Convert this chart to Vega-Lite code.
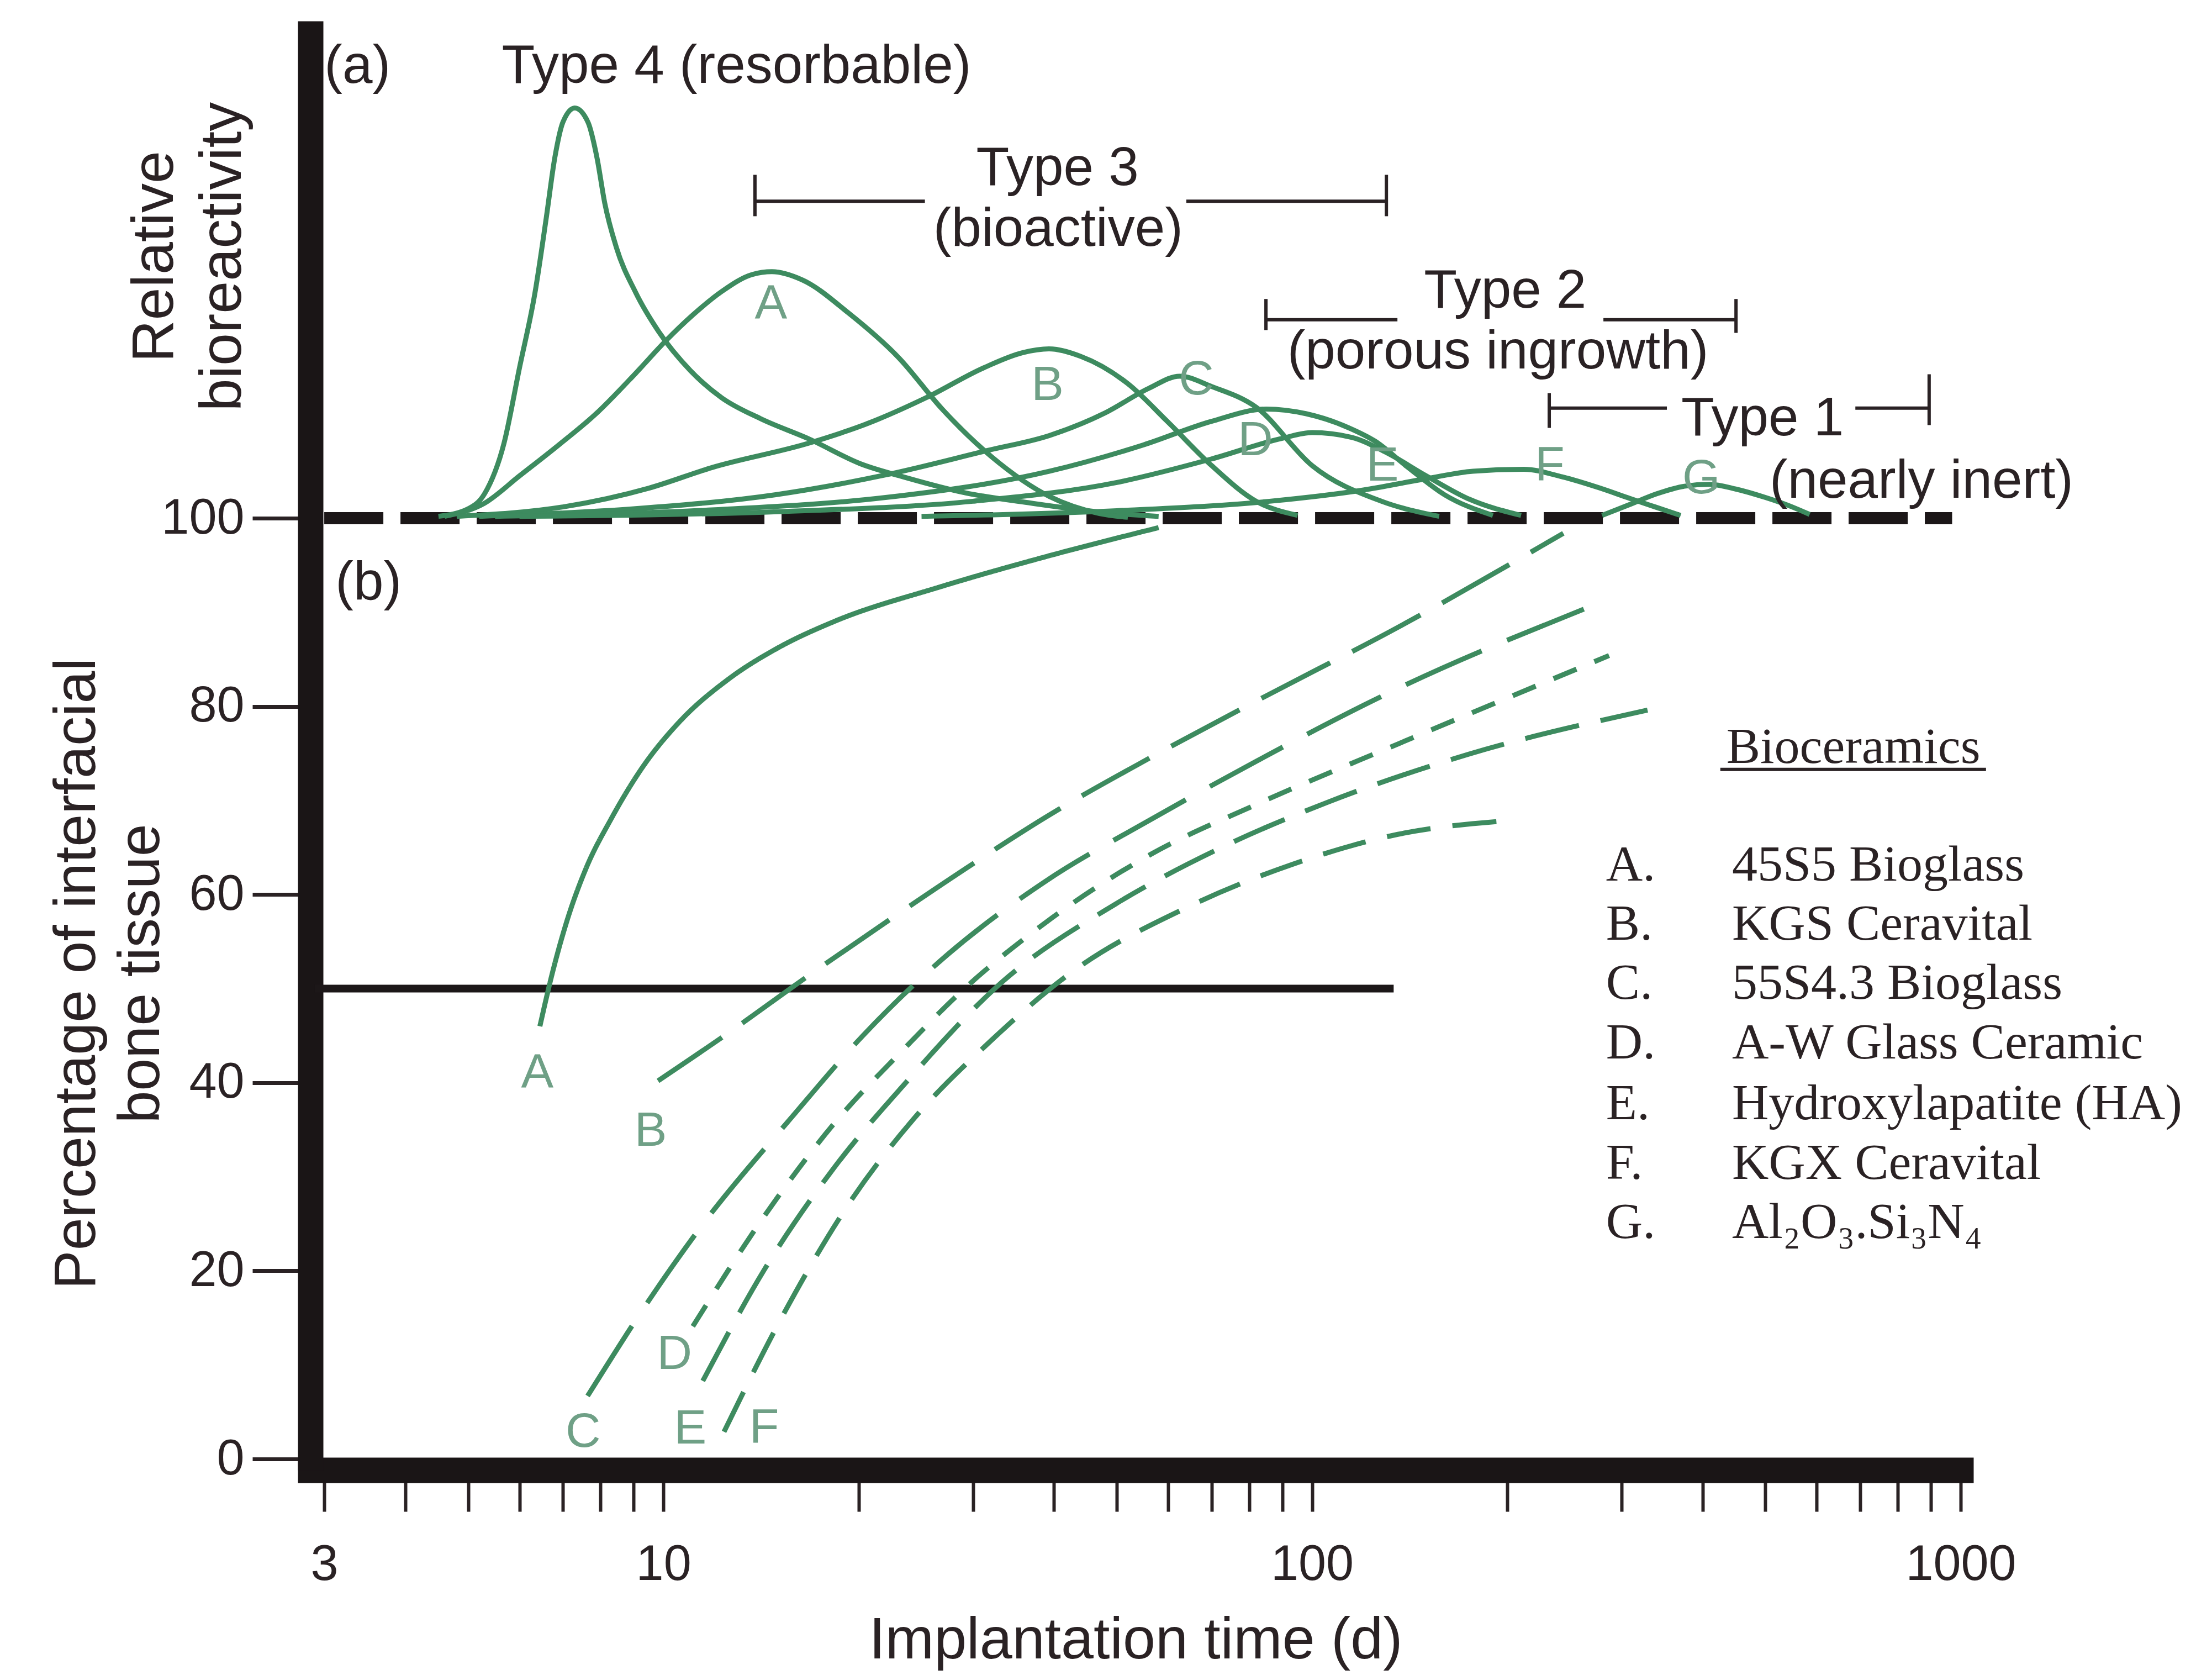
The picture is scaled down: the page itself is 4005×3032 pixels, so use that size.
{
  "$schema": "https://vega.github.io/schema/vega-lite/v6.json",
  "width": 2988,
  "height": 2623,
  "autosize": {"type": "none"},
  "padding": {"left": 562, "top": 38, "right": 455, "bottom": 371},
  "background": "white",
  "config": {
    "view": {"stroke": null},
    "font": "Liberation Sans",
    "axis": {"labelFont": "Liberation Sans", "titleFont": "Liberation Sans", "grid": false}
  },
  "datasets": {
    "line50": [{"x": 2.9, "y": 50}, {"x": 133.6, "y": 50}],
    "base100": [{"x": 3, "y": 100}, {"x": 970, "y": 100}],
    "upper": [
      {"material": "Type 4", "x": 4.5, "y": 100.2}, {"material": "Type 4", "x": 5.0, "y": 101}, {"material": "Type 4", "x": 5.3, "y": 102.6}, {"material": "Type 4", "x": 5.68, "y": 108}, {"material": "Type 4", "x": 6.0, "y": 116}, {"material": "Type 4", "x": 6.34, "y": 124}, {"material": "Type 4", "x": 6.6, "y": 132}, {"material": "Type 4", "x": 6.8, "y": 138.3}, {"material": "Type 4", "x": 7.0, "y": 142.1}, {"material": "Type 4", "x": 7.3, "y": 143.6}, {"material": "Type 4", "x": 7.65, "y": 142.1}, {"material": "Type 4", "x": 7.9, "y": 138.3}, {"material": "Type 4", "x": 8.12, "y": 133.5}, {"material": "Type 4", "x": 8.46, "y": 128.8}, {"material": "Type 4", "x": 9.06, "y": 124}, {"material": "Type 4", "x": 9.84, "y": 119.8}, {"material": "Type 4", "x": 11, "y": 115.7}, {"material": "Type 4", "x": 12.3, "y": 112.8}, {"material": "Type 4", "x": 14.1, "y": 110.6}, {"material": "Type 4", "x": 16.8, "y": 108.4}, {"material": "Type 4", "x": 20.1, "y": 105.8}, {"material": "Type 4", "x": 23.7, "y": 104.3}, {"material": "Type 4", "x": 29.2, "y": 102.7}, {"material": "Type 4", "x": 36.9, "y": 101.6}, {"material": "Type 4", "x": 48, "y": 100.6}, {"material": "Type 4", "x": 58, "y": 100.2},
      {"material": "A", "x": 4.6, "y": 100.2}, {"material": "A", "x": 5.3, "y": 101.6}, {"material": "A", "x": 6.0, "y": 104.5}, {"material": "A", "x": 6.9, "y": 107.8}, {"material": "A", "x": 7.9, "y": 111.2}, {"material": "A", "x": 9.06, "y": 115.4}, {"material": "A", "x": 10.1, "y": 118.9}, {"material": "A", "x": 11.1, "y": 121.6}, {"material": "A", "x": 12.3, "y": 124.1}, {"material": "A", "x": 13.7, "y": 125.9}, {"material": "A", "x": 14.7, "y": 126.2}, {"material": "A", "x": 16.4, "y": 125.3}, {"material": "A", "x": 19.3, "y": 121.8}, {"material": "A", "x": 23.1, "y": 117}, {"material": "A", "x": 26.9, "y": 111.6}, {"material": "A", "x": 32.1, "y": 106.5}, {"material": "A", "x": 39.4, "y": 102.3}, {"material": "A", "x": 47, "y": 100.5}, {"material": "A", "x": 52, "y": 100.1},
      {"material": "B", "x": 4.8, "y": 100.2}, {"material": "B", "x": 7, "y": 101.2}, {"material": "B", "x": 9.5, "y": 103.2}, {"material": "B", "x": 11.9, "y": 105.4}, {"material": "B", "x": 16.8, "y": 108}, {"material": "B", "x": 20.7, "y": 110.1}, {"material": "B", "x": 25.4, "y": 112.8}, {"material": "B", "x": 31.2, "y": 116}, {"material": "B", "x": 35.8, "y": 117.6}, {"material": "B", "x": 39.3, "y": 118}, {"material": "B", "x": 44, "y": 117.2}, {"material": "B", "x": 52, "y": 114.3}, {"material": "B", "x": 60, "y": 110.2}, {"material": "B", "x": 70, "y": 105.6}, {"material": "B", "x": 82, "y": 101.8}, {"material": "B", "x": 95, "y": 100.3},
      {"material": "C", "x": 5.2, "y": 100.2}, {"material": "C", "x": 9, "y": 101}, {"material": "C", "x": 14.9, "y": 102.5}, {"material": "C", "x": 22, "y": 104.6}, {"material": "C", "x": 31.6, "y": 107.2}, {"material": "C", "x": 39.4, "y": 108.8}, {"material": "C", "x": 48, "y": 111.2}, {"material": "C", "x": 56, "y": 113.8}, {"material": "C", "x": 62.5, "y": 115.1}, {"material": "C", "x": 70, "y": 114}, {"material": "C", "x": 82, "y": 111.8}, {"material": "C", "x": 100, "y": 105.6}, {"material": "C", "x": 128, "y": 101.8}, {"material": "C", "x": 157, "y": 100.2},
      {"material": "D", "x": 5.5, "y": 100.2}, {"material": "D", "x": 12, "y": 100.9}, {"material": "D", "x": 22, "y": 102.2}, {"material": "D", "x": 39.4, "y": 105}, {"material": "D", "x": 55, "y": 107.8}, {"material": "D", "x": 70, "y": 110.3}, {"material": "D", "x": 85, "y": 111.6}, {"material": "D", "x": 98, "y": 111.1}, {"material": "D", "x": 114, "y": 109.6}, {"material": "D", "x": 125, "y": 108.2}, {"material": "D", "x": 140, "y": 105.5}, {"material": "D", "x": 160, "y": 102.5}, {"material": "D", "x": 190, "y": 100.3},
      {"material": "E", "x": 6, "y": 100.2}, {"material": "E", "x": 15, "y": 100.7}, {"material": "E", "x": 30, "y": 101.8}, {"material": "E", "x": 50, "y": 103.8}, {"material": "E", "x": 70, "y": 106.3}, {"material": "E", "x": 90, "y": 108.5}, {"material": "E", "x": 100, "y": 109.1}, {"material": "E", "x": 115, "y": 108.6}, {"material": "E", "x": 130, "y": 107}, {"material": "E", "x": 150, "y": 104.5}, {"material": "E", "x": 175, "y": 102}, {"material": "E", "x": 210, "y": 100.3},
      {"material": "F", "x": 25, "y": 100.2}, {"material": "F", "x": 50, "y": 100.8}, {"material": "F", "x": 86, "y": 101.8}, {"material": "F", "x": 120, "y": 103}, {"material": "F", "x": 150, "y": 104.2}, {"material": "F", "x": 177, "y": 105}, {"material": "F", "x": 212, "y": 105.2}, {"material": "F", "x": 243, "y": 104.4}, {"material": "F", "x": 278, "y": 103.2}, {"material": "F", "x": 309, "y": 102.1}, {"material": "F", "x": 338, "y": 101.2}, {"material": "F", "x": 370, "y": 100.3},
      {"material": "G", "x": 280, "y": 100.3}, {"material": "G", "x": 310, "y": 101.5}, {"material": "G", "x": 340, "y": 102.6}, {"material": "G", "x": 375, "y": 103.4}, {"material": "G", "x": 410, "y": 103.6}, {"material": "G", "x": 450, "y": 103.1}, {"material": "G", "x": 500, "y": 102.2}, {"material": "G", "x": 545, "y": 101.3}, {"material": "G", "x": 585, "y": 100.4}
    ],
    "lower": [
      {"material": "A", "x": 6.45, "y": 46}, {"material": "A", "x": 6.75, "y": 51.8}, {"material": "A", "x": 7.1, "y": 57.2}, {"material": "A", "x": 7.6, "y": 62.8}, {"material": "A", "x": 8.3, "y": 68}, {"material": "A", "x": 9.3, "y": 73.6}, {"material": "A", "x": 10.6, "y": 78.4}, {"material": "A", "x": 12.6, "y": 82.9}, {"material": "A", "x": 15, "y": 86.2}, {"material": "A", "x": 18.3, "y": 89}, {"material": "A", "x": 26.7, "y": 92.7}, {"material": "A", "x": 38.8, "y": 95.9}, {"material": "A", "x": 58, "y": 99},
      {"material": "B", "x": 9.81, "y": 40.2}, {"material": "B", "x": 12.6, "y": 45.3}, {"material": "B", "x": 16.6, "y": 51.2}, {"material": "B", "x": 22.4, "y": 57.4}, {"material": "B", "x": 30.2, "y": 63.4}, {"material": "B", "x": 38.8, "y": 68.2}, {"material": "B", "x": 56.5, "y": 74.6}, {"material": "B", "x": 82.2, "y": 80.6}, {"material": "B", "x": 135.6, "y": 88.4}, {"material": "B", "x": 244, "y": 98.4},
      {"material": "C", "x": 7.64, "y": 6.7}, {"material": "C", "x": 9.57, "y": 17.2}, {"material": "C", "x": 11.4, "y": 24.6}, {"material": "C", "x": 15.8, "y": 36.4}, {"material": "C", "x": 20.3, "y": 45}, {"material": "C", "x": 27.4, "y": 53.6}, {"material": "C", "x": 38.8, "y": 61.4}, {"material": "C", "x": 56.5, "y": 68}, {"material": "C", "x": 82.2, "y": 74.2}, {"material": "C", "x": 135.6, "y": 81.9}, {"material": "C", "x": 266, "y": 90.5},
      {"material": "D", "x": 11.1, "y": 14.1}, {"material": "D", "x": 14.3, "y": 25.8}, {"material": "D", "x": 18.3, "y": 35.6}, {"material": "D", "x": 23.5, "y": 43.6}, {"material": "D", "x": 28.7, "y": 49.6}, {"material": "D", "x": 38.8, "y": 57}, {"material": "D", "x": 56.5, "y": 64.3}, {"material": "D", "x": 82.2, "y": 69.6}, {"material": "D", "x": 135.6, "y": 76}, {"material": "D", "x": 287, "y": 85.4},
      {"material": "E", "x": 11.5, "y": 8.3}, {"material": "E", "x": 14.3, "y": 20.1}, {"material": "E", "x": 18.3, "y": 30.9}, {"material": "E", "x": 23.5, "y": 39.8}, {"material": "E", "x": 33.4, "y": 50.8}, {"material": "E", "x": 49.8, "y": 59}, {"material": "E", "x": 72.5, "y": 65}, {"material": "E", "x": 105.6, "y": 69.8}, {"material": "E", "x": 174, "y": 74.9}, {"material": "E", "x": 329, "y": 79.6},
      {"material": "F", "x": 12.4, "y": 2.9}, {"material": "F", "x": 15.4, "y": 15.7}, {"material": "F", "x": 19.3, "y": 27.1}, {"material": "F", "x": 24.7, "y": 36.7}, {"material": "F", "x": 31.8, "y": 44.3}, {"material": "F", "x": 42.9, "y": 51.9}, {"material": "F", "x": 64, "y": 58.6}, {"material": "F", "x": 93.2, "y": 63.2}, {"material": "F", "x": 135.6, "y": 66.4}, {"material": "F", "x": 205, "y": 67.9}
    ],
    "hsegs": [
      {"x": 13.84, "x2": 25.3, "y": 133.7}, {"x": 64.0, "x2": 130.2, "y": 133.7},
      {"x": 84.9, "x2": 135.4, "y": 121.1}, {"x": 281.3, "x2": 450.4, "y": 121.1},
      {"x": 232.1, "x2": 352.4, "y": 111.7}, {"x": 688, "x2": 894, "y": 111.7},
      {"x": 426, "x2": 1094, "y": 73.3}
    ],
    "caps": [
      {"x": 13.84, "y": 132.1, "y2": 136.5}, {"x": 130.2, "y": 132.1, "y2": 136.5},
      {"x": 84.9, "y": 120.0, "y2": 123.3}, {"x": 450.4, "y": 119.7, "y2": 123.3},
      {"x": 232.1, "y": 109.6, "y2": 113.3}, {"x": 894, "y": 109.9, "y2": 115.3}
    ],
    "notes": [
      {"x": 3.375, "y": 146.3, "text": "(a)"},
      {"x": 12.96, "y": 146.3, "text": "Type 4 (resorbable)"},
      {"x": 40.5, "y": 135.4, "text": "Type 3"},
      {"x": 40.6, "y": 128.95, "text": "(bioactive)"},
      {"x": 198.5, "y": 122.35, "text": "Type 2"},
      {"x": 193.4, "y": 115.9, "text": "(porous ingrowth)"},
      {"x": 494.8, "y": 108.8, "text": "Type 1"},
      {"x": 870, "y": 102.2, "text": "(nearly inert)"},
      {"x": 3.51, "y": 91.4, "text": "(b)"}
    ],
    "ytitle": [{"x": 1.753, "y": 127.8, "text": "Relative\nbioreactivity"}],
    "labels": [
      {"x": 14.65, "y": 122.7, "text": "A"}, {"x": 39.1, "y": 114.1, "text": "B"}, {"x": 66.3, "y": 114.7, "text": "C"}, {"x": 81.8, "y": 108.2, "text": "D"}, {"x": 128.4, "y": 105.5, "text": "E"}, {"x": 232.5, "y": 105.6, "text": "F"}, {"x": 398, "y": 104.2, "text": "G"},
      {"x": 6.39, "y": 41.0, "text": "A"}, {"x": 9.56, "y": 34.8, "text": "B"}, {"x": 7.52, "y": 2.8, "text": "C"}, {"x": 10.4, "y": 11.1, "text": "D"}, {"x": 11.0, "y": 3.2, "text": "E"}, {"x": 14.3, "y": 3.3, "text": "F"}
    ],
    "legendHead": [{"x": 683, "y": 74.0, "text": "Bioceramics"}],
    "legendText": [
      {"x": 283.9, "y": 61.5, "text": "A."}, {"x": 444, "y": 61.5, "text": "45S5 Bioglass"},
      {"x": 283.9, "y": 55.2, "text": "B."}, {"x": 444, "y": 55.2, "text": "KGS Ceravital"},
      {"x": 283.9, "y": 48.9, "text": "C."}, {"x": 444, "y": 48.9, "text": "55S4.3 Bioglass"},
      {"x": 283.9, "y": 42.6, "text": "D."}, {"x": 444, "y": 42.6, "text": "A-W Glass Ceramic"},
      {"x": 283.9, "y": 36.1, "text": "E."}, {"x": 444, "y": 36.1, "text": "Hydroxylapatite (HA)"},
      {"x": 283.9, "y": 29.8, "text": "F."}, {"x": 444, "y": 29.8, "text": "KGX Ceravital"},
      {"x": 283.9, "y": 23.5, "text": "G."}, {"x": 444, "y": 23.5, "text": "Al₂O₃.Si₃N₄"}
    ]
  },
  "encoding": {
    "x": {
      "field": "x", "type": "quantitative",
      "scale": {"type": "log", "domain": [2.856, 1000], "nice": false, "zero": false},
      "axis": {
        "title": "Implantation time (d)",
        "values": [3, 4, 5, 6, 7, 8, 9, 10, 20, 30, 40, 50, 60, 70, 80, 90, 100, 200, 300, 400, 500, 600, 700, 800, 900, 1000],
        "labelExpr": "(datum.value == 3 || datum.value == 10 || datum.value == 100 || datum.value == 1000) ? format(datum.value, 'd') : ''",
        "labelOverlap": false, "labelFlush": false, "labelLimit": 600,
        "labelFontSize": 90, "labelColor": "#2a2224", "labelPadding": 52,
        "tickSize": 75, "tickWidth": 6, "tickColor": "#2a2224",
        "domainWidth": 46, "domainColor": "#1a1516", "domainCap": "square",
        "titleFontSize": 106, "titleFontWeight": "normal", "titleColor": "#2a2224", "titlePadding": 56
      }
    },
    "y": {
      "field": "y", "type": "quantitative",
      "scale": {"domain": [-1.17, 152.85], "nice": false, "zero": false},
      "axis": {
        "title": ["Percentage of interfacial", "bone tissue"],
        "values": [0, 20, 40, 60, 80, 100], "format": "d",
        "labelOverlap": false, "labelFlush": false, "labelLimit": 600,
        "labelFontSize": 90, "labelColor": "#2a2224", "labelPadding": 15,
        "tickSize": 105, "tickWidth": 7, "tickColor": "#2a2224",
        "domainWidth": 46, "domainColor": "#1a1516", "domainCap": "butt",
        "titleFontSize": 106, "titleFontWeight": "normal", "titleColor": "#2a2224",
        "titleAngle": 270, "titleBaseline": "alphabetic", "titleAlign": "center",
        "titleLineHeight": 116, "titleX": -391, "titleY": 1724, "titleLimit": 3000
      }
    }
  },
  "layer": [
    {"data": {"name": "line50"}, "mark": {"type": "line", "color": "#1c1718", "strokeWidth": 14}},
    {"data": {"name": "base100"}, "mark": {"type": "line", "color": "#1c1718", "strokeWidth": 22, "strokeDash": [107, 31]}},
    {
      "data": {"name": "upper"},
      "mark": {"type": "line", "color": "#3d8b5f", "strokeWidth": 9, "interpolate": "monotone"},
      "encoding": {"detail": {"field": "material", "type": "nominal"}}
    },
    {
      "data": {"name": "lower"},
      "mark": {"type": "line", "color": "#3d8b5f", "strokeWidth": 9, "interpolate": "monotone"},
      "encoding": {
        "detail": {"field": "material", "type": "nominal"},
        "strokeDash": {
          "field": "material", "type": "nominal",
          "scale": {"domain": ["A", "B", "C", "D", "E", "F"], "range": [[1, 0], [140, 45], [150, 50], [45, 35], [100, 40], [80, 40]]},
          "legend": null
        }
      }
    },
    {"data": {"name": "hsegs"}, "mark": {"type": "rule", "color": "#2a2224", "strokeWidth": 6}, "encoding": {"x2": {"field": "x2"}}},
    {"data": {"name": "caps"}, "mark": {"type": "rule", "color": "#2a2224", "strokeWidth": 6}, "encoding": {"y2": {"field": "y2"}}},
    {
      "data": {"name": "notes"},
      "mark": {"type": "text", "fontSize": 98, "align": "center", "baseline": "alphabetic", "color": "#2a2224", "font": "Liberation Sans"},
      "encoding": {"text": {"field": "text", "type": "nominal"}}
    },
    {
      "data": {"name": "ytitle"},
      "mark": {"type": "text", "fontSize": 106, "angle": 270, "lineBreak": "\n", "lineHeight": 123, "align": "center", "baseline": "alphabetic", "color": "#2a2224", "font": "Liberation Sans"},
      "encoding": {"text": {"field": "text", "type": "nominal"}}
    },
    {
      "data": {"name": "labels"},
      "mark": {"type": "text", "fontSize": 88, "align": "center", "baseline": "middle", "color": "#6fa086", "font": "Liberation Sans"},
      "encoding": {"text": {"field": "text", "type": "nominal"}}
    },
    {
      "data": {"name": "legendHead"},
      "mark": {"type": "text", "fontSize": 92, "align": "center", "baseline": "alphabetic", "color": "#2a2224", "font": "Liberation Serif"},
      "encoding": {"text": {"field": "text", "type": "nominal"}}
    },
    {
      "data": {"name": "legendText"},
      "mark": {"type": "text", "fontSize": 92, "align": "left", "baseline": "alphabetic", "color": "#2a2224", "font": "Liberation Serif"},
      "encoding": {"text": {"field": "text", "type": "nominal"}}
    }
  ]
}
